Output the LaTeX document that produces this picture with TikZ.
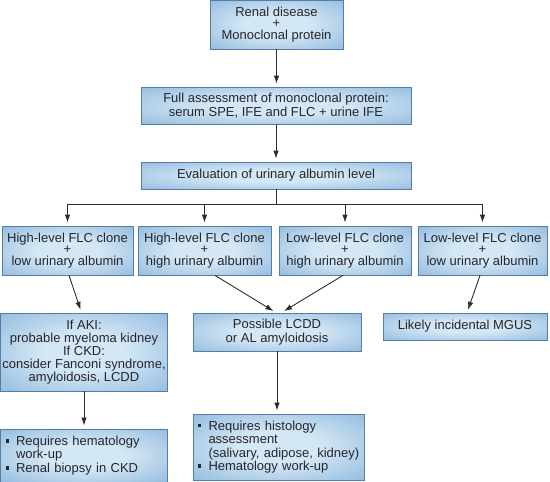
\documentclass[tikz,border=0pt]{standalone}
\usepackage{fontspec}
\setmainfont{Liberation Sans}
\usetikzlibrary{arrows.meta,calc}
\definecolor{boxin}{RGB}{212,231,245}
\definecolor{boxout}{RGB}{110,163,210}
\definecolor{boxline}{RGB}{85,125,165}
\definecolor{ink}{RGB}{38,38,44}
\definecolor{arr}{RGB}{45,45,45}
\pgfdeclareradialshading{boxshade}{\pgfpoint{0bp}{0bp}}{color(0bp)=(boxin); color(12bp)=(boxin); color(50bp)=(boxout); color(75bp)=(boxout)}
\newcommand\sqbul{\makebox[10.5pt][l]{\rule[2.8pt]{3.4pt}{3.4pt}}}
\begin{document}
\begin{tikzpicture}[x=1pt,y=-1pt,
  box/.style={draw=boxline, line width=0.8pt, shading=boxshade, text=ink,
    font=\fontsize{13}{13.5}\selectfont, align=center, inner sep=2pt},
  listbox/.style={box, align=left, inner xsep=5pt},
  link/.style={draw=arr, line width=0.9pt},
  arrow/.style={link, -{Latex[length=8pt,width=5.5pt]}, shorten >=3pt}]
\useasboundingbox (0,0) rectangle (550,482);

\node[box, minimum width=133pt, minimum height=49pt] (b1) at (276.5,24.5)
  {Renal disease\\[-1.8pt]+\\[-1.8pt]Monoclonal protein};
\node[box, minimum width=270pt, minimum height=37pt] (b2) at (276,105.5)
  {Full assessment of monoclonal protein:\\serum SPE, IFE and FLC + urine IFE};
\node[box, minimum width=270pt, minimum height=27pt] (b3) at (276,175.5)
  {Evaluation of urinary albumin level};

\node[box, minimum width=131pt, minimum height=49pt] (r1) at (67.5,250.5)
  {High-level FLC clone\\[-1.8pt]+\\[-1.8pt]low urinary albumin};
\node[box, minimum width=133pt, minimum height=49pt] (r2) at (204.5,250.5)
  {High-level FLC clone\\[-1.8pt]+\\[-1.8pt]high urinary albumin};
\node[box, minimum width=132pt, minimum height=49pt] (r3) at (345,250.5)
  {Low-level FLC clone\\[-1.8pt]+\\[-1.8pt]high urinary albumin};
\node[box, minimum width=129pt, minimum height=49pt] (r4) at (482.5,250.5)
  {Low-level FLC clone\\[-1.8pt]+\\[-1.8pt]low urinary albumin};

\node[box, minimum width=167pt, minimum height=78pt] (aki) at (84,352)
  {If AKI:\\[-0.5pt]probable myeloma kidney\\[-0.5pt]If CKD:\\[-0.5pt]consider Fanconi syndrome,\\[-0.5pt]amyloidosis, LCDD};
\node[box, minimum width=168pt, minimum height=38pt] (lcdd) at (277,332)
  {Possible LCDD\\or AL amyloidosis};
\node[box, minimum width=164pt, minimum height=27pt] (mgus) at (465,326.5)
  {Likely incidental MGUS};

\node[listbox, text width=157pt, minimum height=53pt] (bl) at (84,455.5)
  {\mbox{\sqbul Requires hematology}\\\mbox{\hspace*{10.5pt}work-up}\\\mbox{\sqbul Renal biopsy in CKD}};
\node[listbox, text width=161pt, minimum height=66pt] (bm) at (278.5,447)
  {\mbox{\sqbul Requires histology}\\\mbox{\hspace*{10.5pt}assessment}\\\mbox{\hspace*{10.5pt}(salivary, adipose, kidney)}\\\mbox{\sqbul Hematology work-up}};

\draw[arrow] (b1.south) -- (b1.south |- b2.north);
\draw[arrow] (b2.south) -- (b3.north);
\coordinate (j) at ($(b3.south)+(0,15)$);
\draw[link] (b3.south) -- (j);
\draw[arrow] (j) -| (r1.north);
\draw[arrow] (j) -| (r2.north);
\draw[arrow] (j) -| (r3.north);
\draw[arrow] (j) -| (r4.north);

\draw[arrow] ($(r1.south)+(1.5,0)$) -- ($(aki.north)+(-2.5,0)$);
\draw[arrow] ($(r2.south)+(10.5,0)$) -- ($(lcdd.north)+(-1,0)$);
\draw[arrow] ($(r3.south)+(-2,0)$) -- ($(lcdd.north)+(4.5,0)$);
\draw[arrow] ($(r4.south)+(-2.5,0)$) -- ($(mgus.north)+(2,0)$);

\draw[arrow] (aki.south) -- (bl.north);
\draw[arrow] (lcdd.south) -- (lcdd.south |- bm.north);
\end{tikzpicture}
\end{document}
